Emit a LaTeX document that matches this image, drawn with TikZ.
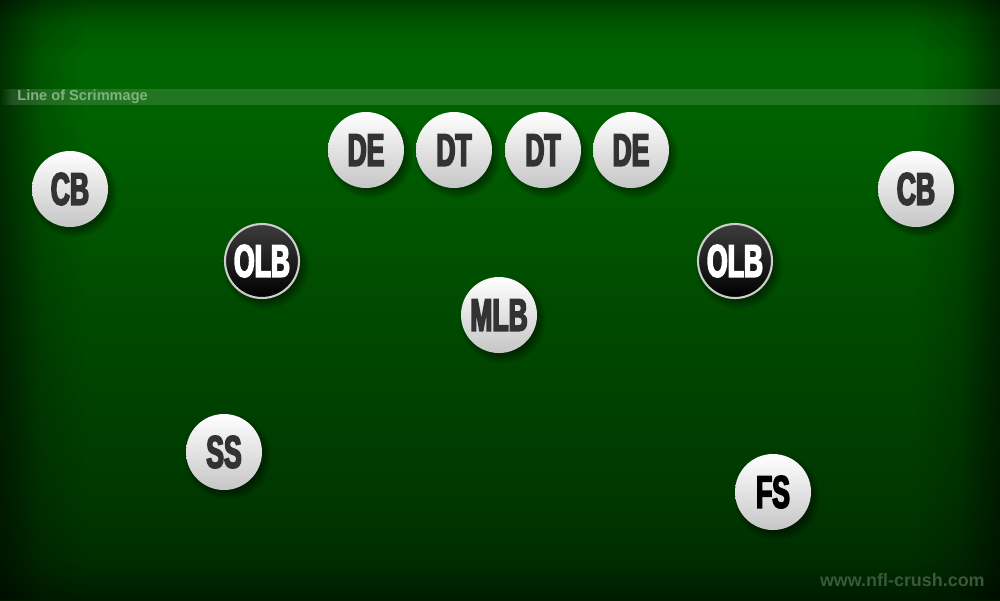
\documentclass[tikz,border=0pt]{standalone}
\usepackage{fontspec}
\newfontfamily\pfont{Liberation Sans Bold}[FakeStretch=0.58,FakeBold=3.5]
\newfontfamily\lfont{Liberation Sans Bold}
\usetikzlibrary{fadings}
\definecolor{g28}{RGB}{0,28,0}
\definecolor{g45}{RGB}{0,45,0}
\definecolor{g55}{RGB}{0,55,0}
\definecolor{g75}{RGB}{0,75,0}
\definecolor{g85}{RGB}{0,85,0}
\definecolor{g98}{RGB}{0,98,0}
\definecolor{g100}{RGB}{0,102,0}
\definecolor{gtop}{RGB}{0,60,0}
\definecolor{txtdark}{RGB}{51,51,51}
\definecolor{ballbot}{RGB}{198,198,198}
\definecolor{blacktop}{RGB}{60,60,60}
\definecolor{ringc}{RGB}{205,205,205}
\definecolor{losc}{RGB}{128,178,128}
\definecolor{wmc}{RGB}{58,88,58}
\pgfdeclareverticalshading{field}{100bp}{color(0bp)=(g28); color(25bp)=(g28); color(28.3bp)=(g45); color(33.3bp)=(g55); color(50bp)=(g75); color(65.8bp)=(g98); color(70bp)=(g100); color(73.3bp)=(g85); color(75bp)=(gtop); color(100bp)=(gtop)}
\tikzset{
  wplayer/.style={circle, minimum size=1.52cm, inner sep=0pt, top color=white, bottom color=ballbot, text=txtdark, font=\pfont\fontsize{26}{26}\selectfont},
  bplayer/.style={circle, minimum size=1.48cm, inner sep=0pt, top color=blacktop, bottom color=black, draw=ringc, line width=1.2pt, text=white, font=\pfont\fontsize{26}{26}\selectfont},
  shadowlayer/.style={fill=black, opacity=0.09},
  vignette/.style={fill=black, opacity=0.3}
}
\newcommand\plyr[5]{%
  \foreach \r in {33,35,...,43}{\fill[shadowlayer] (#2+4,#3+5) circle[radius={\r*0.569pt}];}
  \node[#5] (#1) at (#2,#3) {#4};
}
\begin{document}
\begin{tikzpicture}[x=0.02cm,y=-0.02cm]
\useasboundingbox (0,0) rectangle (1000,600);
\shade[shading=field] (0,0) rectangle (1000,600);
\fill[vignette,path fading=east] (0,0) rectangle (40,600);
\fill[vignette,path fading=east] (0,0) rectangle (85,600);
\fill[vignette,path fading=west] (960,0) rectangle (1000,600);
\fill[vignette,path fading=west] (915,0) rectangle (1000,600);
% line of scrimmage band
\fill[white,opacity=0.13] (12,89) rectangle (1000,105);
\fill[white,opacity=0.13,path fading=west] (0,89) rectangle (12,105);
\node[anchor=west, inner sep=0pt, text=losc, font=\lfont\fontsize{8.3}{9}\selectfont] (los) at (17,97) {Line of Scrimmage};
% players
\plyr{cbl}{70}{189}{CB}{wplayer}
\plyr{cbr}{916}{189}{CB}{wplayer}
\plyr{del}{366}{150}{DE}{wplayer}
\plyr{dtl}{454}{150}{DT}{wplayer}
\plyr{dtr}{543}{150}{DT}{wplayer}
\plyr{der}{631}{150}{DE}{wplayer}
\plyr{olbl}{262}{261}{OLB}{bplayer}
\plyr{olbr}{735}{261}{OLB}{bplayer}
\plyr{mlb}{499}{315}{MLB}{wplayer}
\plyr{ss}{224}{452}{SS}{wplayer}
\plyr{fs}{773}{492}{FS}{wplayer,text=black}
% watermark
\node[anchor=east, inner sep=0pt, text=wmc, font=\lfont\fontsize{10.2}{11}\selectfont] (wm) at (985,580) {www.nfl-crush.com};
\end{tikzpicture}
\end{document}
